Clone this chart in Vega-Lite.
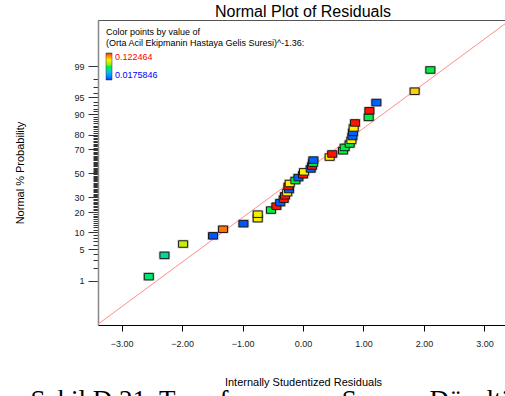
{
  "$schema": "https://vega.github.io/schema/vega-lite/v6.json",
  "autosize": "none",
  "padding": {"left": 98, "top": 20, "right": 0, "bottom": 71},
  "width": 410,
  "height": 305,
  "title": {"text": "Normal Plot of Residuals", "fontSize": 16, "fontWeight": "normal", "font": "Liberation Sans", "color": "#000", "offset": 0, "anchor": "middle"},
  "config": {
    "font": "Liberation Sans",
    "view": {"stroke": "#555", "strokeWidth": 1},
    "axis": {"grid": false}
  },
  "datasets": {
    "pts": [
      {"x": -2.55, "z": -2.241, "v": 0.064},
      {"x": -2.291, "z": -1.78, "v": 0.058},
      {"x": -1.983, "z": -1.534, "v": 0.086},
      {"x": -1.488, "z": -1.356, "v": 0.022},
      {"x": -1.322, "z": -1.213, "v": 0.114},
      {"x": -0.985, "z": -1.092, "v": 0.022},
      {"x": -0.749, "z": -0.984, "v": 0.093},
      {"x": -0.749, "z": -0.887, "v": 0.093},
      {"x": -0.529, "z": -0.798, "v": 0.07},
      {"x": -0.44, "z": -0.714, "v": 0.122},
      {"x": -0.377, "z": -0.636, "v": 0.024},
      {"x": -0.319, "z": -0.561, "v": 0.122},
      {"x": -0.298, "z": -0.489, "v": 0.122},
      {"x": -0.262, "z": -0.419, "v": 0.095},
      {"x": -0.231, "z": -0.352, "v": 0.024},
      {"x": -0.241, "z": -0.286, "v": 0.122},
      {"x": -0.22, "z": -0.221, "v": 0.095},
      {"x": -0.126, "z": -0.157, "v": 0.07},
      {"x": -0.076, "z": -0.094, "v": 0.024},
      {"x": 0.0, "z": -0.031, "v": 0.122},
      {"x": 0.017, "z": 0.031, "v": 0.095},
      {"x": 0.127, "z": 0.094, "v": 0.024},
      {"x": 0.149, "z": 0.157, "v": 0.122},
      {"x": 0.165, "z": 0.221, "v": 0.07},
      {"x": 0.172, "z": 0.286, "v": 0.024},
      {"x": 0.441, "z": 0.352, "v": 0.095},
      {"x": 0.483, "z": 0.419, "v": 0.122},
      {"x": 0.661, "z": 0.489, "v": 0.07},
      {"x": 0.689, "z": 0.561, "v": 0.07},
      {"x": 0.772, "z": 0.636, "v": 0.07},
      {"x": 0.8, "z": 0.714, "v": 0.095},
      {"x": 0.817, "z": 0.798, "v": 0.024},
      {"x": 0.826, "z": 0.887, "v": 0.024},
      {"x": 0.838, "z": 0.984, "v": 0.095},
      {"x": 0.86, "z": 1.092, "v": 0.122},
      {"x": 1.086, "z": 1.213, "v": 0.07},
      {"x": 1.098, "z": 1.356, "v": 0.122},
      {"x": 1.213, "z": 1.534, "v": 0.024},
      {"x": 1.846, "z": 1.78, "v": 0.1},
      {"x": 2.106, "z": 2.241, "v": 0.07}
    ]
  },
  "resolve": {"axis": {"x": "independent", "y": "independent"}},
  "layer": [
    {
      "data": {"values": [
        {"x": -3.6, "z": -3.476},
        {"x": 3.6, "z": 3.493}
      ]},
      "mark": {"type": "line", "color": "#ff8c8c", "strokeWidth": 1, "clip": true},
      "encoding": {
        "x": {"field": "x", "type": "quantitative", "scale": {"domain": [-3.39, 3.39], "nice": false, "zero": false},
          "axis": {"orient": "bottom", "domain": false, "ticks": false, "labels": false,
            "title": "Sekil D.21. Transformasyon Sonrası Düzeltilmiş Model", "titleFont": "Liberation Serif", "titleFontSize": 27, "titleFontWeight": "normal", "titleColor": "#000", "titleLimit": 1000,
            "titleAlign": "left", "titleAnchor": "start", "titleBaseline": "top", "titleX": -68, "titleY": 62}},
        "y": {"field": "z", "type": "quantitative", "scale": {"domain": [-3.29, 3.325], "nice": false, "zero": false},
          "axis": {"orient": "left", "domain": false, "labels": false, "title": null, "tickSize": 5, "tickColor": "#333", "tickWidth": 1,
            "values": [-2.0537,-1.8808,-1.7507,-1.5548,-1.4758,-1.4051,-1.3408,-1.2265,-1.175,-1.1264,-1.0803,-1.0364,-0.9945,-0.9542,-0.9154,-0.8779,-0.8064,-0.7722,-0.7388,-0.7063,-0.6745,-0.6433,-0.6128,-0.5828,-0.5534,-0.4959,-0.4677,-0.4399,-0.4125,-0.3853,-0.3585,-0.3319,-0.3055,-0.2793,-0.2533,-0.2275,-0.2019,-0.1764,-0.151,-0.1257,-0.1004,-0.0753,-0.0502,-0.0251,0.0251,0.0502,0.0753,0.1004,0.1257,0.151,0.1764,0.2019,0.2275,0.2533,0.2793,0.3055,0.3319,0.3585,0.3853,0.4125,0.4399,0.4677,0.4959,0.5534,0.5828,0.6128,0.6433,0.6745,0.7063,0.7388,0.7722,0.8064,0.8779,0.9154,0.9542,0.9945,1.0364,1.0803,1.1264,1.175,1.2265,1.3408,1.4051,1.4758,1.5548,1.7507,1.8808,2.0537]}}
      }
    },
    {
      "data": {"name": "pts"},
      "mark": {"type": "point", "shape": "M-1,-0.75H1V0.75H-1Z", "size": 132, "filled": true, "opacity": 0.45, "color": "#808080", "strokeWidth": 0},
      "encoding": {
        "x": {"field": "x", "type": "quantitative", "scale": {"domain": [-3.39, 3.39], "nice": false, "zero": false}, "axis": null},
        "y": {"field": "z", "type": "quantitative", "scale": {"domain": [-3.29, 3.325], "nice": false, "zero": false}, "axis": null}
      }
    },
    {
      "data": {"name": "pts"},
      "mark": {"type": "point", "shape": "M-1,-0.72H1V0.72H-1Z", "size": 81, "filled": true, "opacity": 1, "stroke": "#1a1a1a", "strokeWidth": 1},
      "encoding": {
        "x": {"field": "x", "type": "quantitative", "scale": {"domain": [-3.39, 3.39], "nice": false, "zero": false},
          "axis": {"orient": "bottom", "values": [-3, -2, -1, 0, 1, 2, 3], "format": ".2f", "domainColor": "#000", "tickColor": "#000", "tickSize": 6,
            "labelFontSize": 9, "labelColor": "#222", "labelPadding": 8,
            "title": "Internally Studentized Residuals", "titleFontSize": 11, "titleFontWeight": "normal", "titleColor": "#000", "titlePadding": 28}},
        "y": {"field": "z", "type": "quantitative", "scale": {"domain": [-3.29, 3.325], "nice": false, "zero": false},
          "axis": {"orient": "left", "values": [-2.3263, -1.6449, -1.2816, -0.8416, -0.5244, 0, 0.5244, 0.8416, 1.2816, 1.6449, 2.3263],
            "labelExpr": "datum.value < -2 ? '1' : datum.value < -1.5 ? '5' : datum.value < -1 ? '10' : datum.value < -0.7 ? '20' : datum.value < -0.3 ? '30' : datum.value < 0.3 ? '50' : datum.value < 0.7 ? '70' : datum.value < 1 ? '80' : datum.value < 1.5 ? '90' : datum.value < 2 ? '95' : '99'",
            "domainColor": "#888", "domainWidth": 1.5, "tickColor": "#333", "tickSize": 10, "labelFontSize": 9, "labelColor": "#222", "labelPadding": 4,
            "title": "Normal % Probability", "titleFontSize": 11, "titleFontWeight": "normal", "titleColor": "#000", "titlePadding": 48}},
        "color": {"field": "v", "type": "quantitative",
          "scale": {"domain": [0.0175846, 0.07, 0.095, 0.122464], "range": ["#0030ff", "#00f040", "#ffee00", "#ff0000"]},
          "legend": {"title": ["Color points by value of", "(Orta Acil Ekipmanin Hastaya Gelis Suresi)^-1.36:"],
            "orient": "top-left", "offset": 8, "padding": 0, "direction": "vertical",
            "titleFontSize": 9, "titleFontWeight": "normal", "titleColor": "#000", "titleLineHeight": 11, "titlePadding": 5, "titleLimit": 400,
            "gradientLength": 27, "gradientThickness": 6, "gradientStrokeColor": "#333", "gradientStrokeWidth": 0.5,
            "values": [0.0175846, 0.122464], "format": ".6~g", "labelFontSize": 9, "labelOverlap": false, "labelOffset": 3,
            "labelColor": {"expr": "datum.value > 0.1 ? '#ff0000' : '#0000ff'"}}}
      }
    }
  ]
}
